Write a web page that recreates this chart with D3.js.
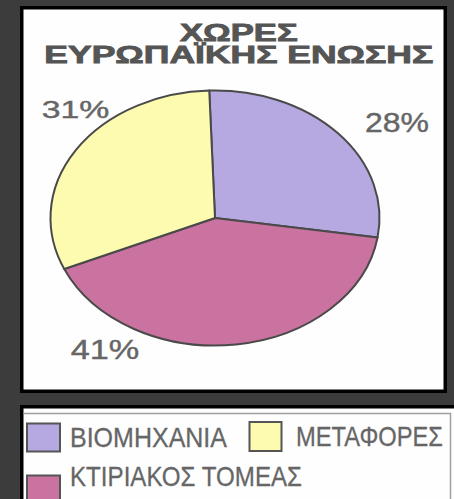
<!DOCTYPE html>
<html>
<head>
<meta charset="utf-8">
<script src="https://cdn.jsdelivr.net/npm/d3@7/dist/d3.min.js"></script>
<style>
  html, body { margin: 0; padding: 0; background: #3c3c3c; }
  svg { display: block; }
  text { font-family: "Liberation Sans", Arial, sans-serif; }
</style>
</head>
<body>
<svg id="chart" width="454" height="499"></svg>
<script>
// ---- data ----
const titleLines = ["ΧΩΡΕΣ", "ΕΥΡΩΠΑΪΚΗΣ ΕΝΩΣΗΣ"];
const categories = ["ΒΙΟΜΗΧΑΝΙΑ", "ΚΤΙΡΙΑΚΟΣ ΤΟΜΕΑΣ", "ΜΕΤΑΦΟΡΕΣ"];
const values = [28, 41, 31];
const valueLabels = ["28%", "41%", "31%"];
const colors = ["#b6a9e2", "#ca72a0", "#fdfbb0"];

// ---- layout ----
const W = 454, H = 499;
const cx = 215, cy = 218, rx = 164.5, ry = 127.5;
const startOffset = -2 * Math.PI / 180;

const svg = d3.select("#chart");

// top panel
svg.append("rect").attr("x", 21.75).attr("y", 7.75).attr("width", 423.5).attr("height", 383.5)
  .attr("fill", "#fefefe").attr("stroke", "#000").attr("stroke-width", 3.5);
// legend panel
svg.append("rect").attr("x", 21.75).attr("y", 406.75).attr("width", 460).attr("height", 120)
  .attr("fill", "#fefefe").attr("stroke", "#000").attr("stroke-width", 3.5);
svg.append("path").attr("d", "M23.5,413.5H450.5V499").attr("fill", "none")
  .attr("stroke", "#a0a0a0").attr("stroke-width", 1.5);

// title
const titleSpec = [
  {x: 180, y: 40.7, w: 117.7, size: 23},
  {x: 44.3, y: 63.3, w: 389, size: 23}
];
svg.selectAll("text.title").data(titleLines).join("text")
  .attr("class", "title")
  .attr("x", (d, i) => titleSpec[i].x)
  .attr("y", (d, i) => titleSpec[i].y)
  .attr("textLength", (d, i) => titleSpec[i].w)
  .attr("lengthAdjust", "spacingAndGlyphs")
  .attr("font-size", (d, i) => titleSpec[i].size)
  .attr("font-weight", "bold")
  .attr("fill", "#555")
  .attr("stroke", "#555")
  .attr("stroke-width", 0.8)
  .text(d => d);

// pie
const pie = d3.pie().sort(null).value(d => d)
  .startAngle(startOffset).endAngle(startOffset + 2 * Math.PI);
const arcs = pie(values);
const arc = d3.arc().innerRadius(0).outerRadius(rx);

const g = svg.append("g")
  .attr("transform", `translate(${cx},${cy}) scale(1,${ry / rx})`);
g.selectAll("path").data(arcs).join("path")
  .attr("d", arc)
  .attr("fill", (d, i) => colors[i])
  .attr("stroke", "#4a4a4a")
  .attr("stroke-width", 2)
  .attr("vector-effect", "non-scaling-stroke")
  .attr("stroke-linejoin", "round");

// value labels
const labelSpec = [
  {x: 365, y: 131.7, w: 64, size: 27},
  {x: 70.7, y: 359.3, w: 68.6, size: 27},
  {x: 41.7, y: 117.7, w: 67.6, size: 23}
];
svg.selectAll("text.val").data(valueLabels).join("text")
  .attr("class", "val")
  .attr("x", (d, i) => labelSpec[i].x)
  .attr("y", (d, i) => labelSpec[i].y)
  .attr("textLength", (d, i) => labelSpec[i].w)
  .attr("lengthAdjust", "spacingAndGlyphs")
  .attr("font-size", (d, i) => labelSpec[i].size)
  .attr("fill", "#666")
  .attr("stroke", "#666")
  .attr("stroke-width", 0.4)
  .text(d => d);

// legend
const legendSpec = [
  {sx: 27, sy: 423.5, sw: 33, sh: 28, tx: 70, ty: 446.7, tw: 157},
  {sx: 27, sy: 475.5, sw: 33, sh: 28, tx: 70, ty: 486, tw: 232},
  {sx: 249.5, sy: 422, sw: 32, sh: 29, tx: 296, ty: 445.5, tw: 147}
];
const lg = svg.append("g");
lg.selectAll("rect").data(categories).join("rect")
  .attr("x", (d, i) => legendSpec[i].sx)
  .attr("y", (d, i) => legendSpec[i].sy)
  .attr("width", (d, i) => legendSpec[i].sw)
  .attr("height", (d, i) => legendSpec[i].sh)
  .attr("fill", (d, i) => colors[i])
  .attr("stroke", "#555")
  .attr("stroke-width", 2);
lg.selectAll("text").data(categories).join("text")
  .attr("x", (d, i) => legendSpec[i].tx)
  .attr("y", (d, i) => legendSpec[i].ty)
  .attr("textLength", (d, i) => legendSpec[i].tw)
  .attr("lengthAdjust", "spacingAndGlyphs")
  .attr("font-size", 28)
  .attr("fill", "#666")
  .attr("stroke", "#666")
  .attr("stroke-width", 0.3)
  .text(d => d);
</script>
</body>
</html>
